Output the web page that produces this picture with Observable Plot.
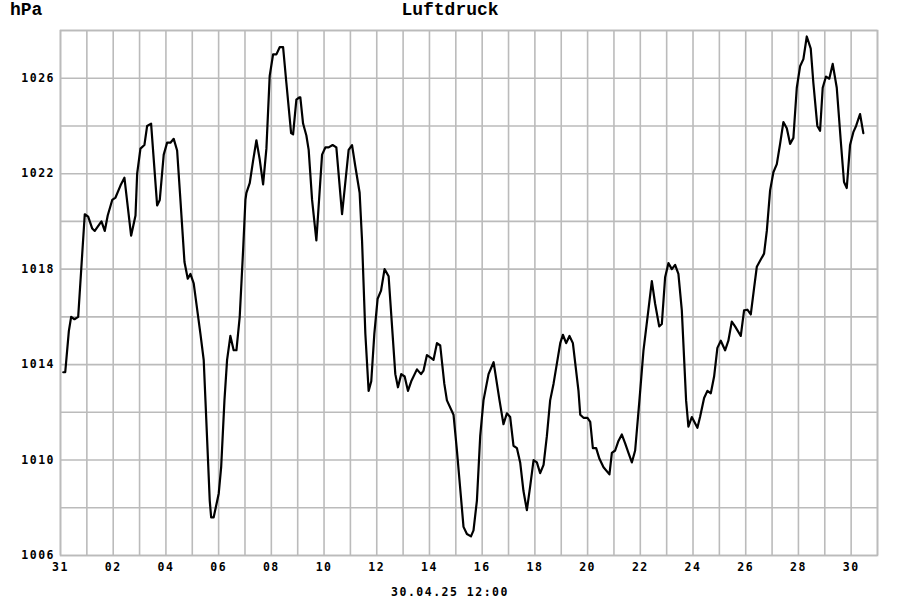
<!DOCTYPE html>
<html>
<head>
<meta charset="utf-8">
<script src="https://cdn.jsdelivr.net/npm/d3@7"></script>
<script src="https://cdn.jsdelivr.net/npm/@observablehq/plot@0.6"></script>
<style>
  html, body { margin: 0; padding: 0; background: #fff; }
  #page { position: relative; width: 900px; height: 600px; overflow: hidden; }
  #unit { position: absolute; left: 10px; top: 1px; font: bold 18px "Liberation Mono", monospace; line-height: 18px; white-space: nowrap; }
  #title { position: absolute; left: 0; width: 900px; top: 1px; text-align: center; font: bold 18px "Liberation Mono", monospace; line-height: 18px; }
  #caption { position: absolute; left: 0; width: 900px; top: 586px; text-align: center; font: bold 11.5px "DejaVu Sans Mono", monospace; line-height: 13px; letter-spacing: 1.5px; }
  #chart { position: absolute; left: 0; top: 20px; }
  #chart svg text { letter-spacing: 1.5px; }
</style>
</head>
<body>
<div id="page">
  <div id="unit">hPa</div>
  <div id="title">Luftdruck</div>
  <div id="chart"></div>
  <div id="caption">30.04.25 12:00</div>
</div>
<script>
// hours since 2025-03-31 00:00 UTC
const hours = [2.5,4.3,7.6,9.7,12.7,16.1,22.1,25.2,28.9,31.2,37.3,40.3,43.0,47.1,50.1,54.6,58.2,64.3,68.3,69.8,72.8,76.4,78.9,82.5,88.0,90.4,94.0,97.1,100.1,103.1,106.2,109.2,112.9,115.9,118.3,121.3,127.4,130.4,132.0,135.9,137.2,139.5,144.1,146.3,149.3,151.7,154.7,157.7,160.2,163.2,166.3,168.4,169.3,172.3,175.4,178.4,181.4,184.5,187.5,190.5,193.6,196.6,199.6,202.7,205.7,210.0,211.8,214.8,217.5,218.4,220.9,223.9,226.0,229.1,233.0,238.2,241.2,244.2,247.8,251.2,256.4,262.4,265.5,268.5,272.4,274.6,277.6,280.6,283.0,285.8,288.8,291.9,295.1,298.8,304.9,307.3,310.3,313.4,316.4,319.4,324.6,328.3,330.6,333.7,336.7,339.7,342.8,345.8,349.5,351.9,357.9,361.0,367.0,370.1,373.8,376.1,379.2,382.2,385.2,389.8,394.4,399.8,403.4,406.5,409.5,412.5,415.6,418.6,421.6,424.7,427.7,430.8,433.8,436.8,439.9,442.9,445.9,449.0,455.1,457.5,460.5,463.5,466.6,471.7,473.3,476.3,479.9,482.4,484.8,487.8,490.8,494.5,499.9,502.1,505.1,508.1,511.2,514.2,517.2,520.3,523.3,527.2,530.9,535.4,538.5,541.5,545.2,547.6,550.6,553.6,556.7,559.7,562.7,565.8,569.7,571.8,574.9,580.0,582.4,586.1,589.1,592.2,595.2,598.2,601.3,605.2,608.2,611.3,614.3,619.5,622.5,625.5,628.6,631.6,634.1,637.7,640.7,643.2,646.2,649.2,652.3,655.3,658.3,661.4,664.4,667.4,670.5,673.5,676.5,679.6,683.2,685.6,689.2,691.7,694.1,697.1,700.1,703.2,706.9,710.5,713.5,716.0,719.0,722.0,724.5,728.1,731.1];
const pressure = [1013.68,1013.68,1015.4,1016.0,1015.9,1016.0,1020.3,1020.2,1019.7,1019.6,1020.0,1019.6,1020.25,1020.9,1021.0,1021.5,1021.83,1019.4,1020.25,1022.0,1023.05,1023.2,1024.0,1024.1,1020.67,1020.9,1022.8,1023.3,1023.3,1023.46,1022.97,1020.9,1018.3,1017.6,1017.8,1017.4,1015.3,1014.2,1012.5,1008.3,1007.6,1007.6,1008.6,1009.7,1012.5,1014.2,1015.2,1014.6,1014.6,1016.0,1018.8,1020.9,1021.2,1021.6,1022.55,1023.4,1022.6,1021.55,1023.05,1026.1,1027.0,1027.0,1027.3,1027.3,1025.8,1023.7,1023.65,1025.1,1025.2,1025.2,1024.1,1023.6,1023.0,1020.9,1019.2,1022.8,1023.1,1023.1,1023.2,1023.1,1020.3,1023.0,1023.2,1022.3,1021.2,1019.2,1015.3,1012.9,1013.3,1015.3,1016.76,1017.1,1018.0,1017.7,1013.6,1013.05,1013.6,1013.5,1012.9,1013.3,1013.8,1013.6,1013.75,1014.4,1014.3,1014.2,1014.9,1014.8,1013.2,1012.5,1011.9,1010.4,1007.2,1006.9,1006.8,1007.05,1008.3,1011.0,1012.5,1013.6,1014.1,1012.5,1011.5,1011.96,1011.8,1010.6,1010.5,1009.9,1008.7,1007.9,1008.9,1010.0,1009.9,1009.45,1009.8,1011.0,1012.5,1013.2,1014.9,1015.25,1014.9,1015.2,1014.9,1012.9,1011.9,1011.77,1011.77,1011.6,1010.5,1010.5,1010.05,1009.7,1009.4,1010.3,1010.4,1010.8,1011.07,1010.7,1010.3,1009.9,1010.4,1012.5,1014.6,1016.3,1017.5,1016.55,1015.6,1015.7,1017.66,1018.25,1018.0,1018.18,1017.8,1016.27,1012.5,1011.4,1011.8,1011.35,1011.8,1012.6,1012.9,1012.8,1013.5,1014.7,1015.0,1014.6,1015.0,1015.8,1015.6,1015.2,1016.27,1016.3,1016.1,1017.2,1018.1,1018.4,1018.65,1019.6,1021.3,1022.06,1022.4,1023.25,1024.16,1023.9,1023.25,1023.5,1025.6,1026.5,1026.8,1027.75,1027.24,1025.8,1024.0,1023.8,1025.6,1026.07,1025.98,1026.6,1025.6,1023.4,1021.65,1021.4,1023.2,1023.74,1024.0,1024.5,1023.7];

const xTickDates = ["2025-03-31","2025-04-02","2025-04-04","2025-04-06","2025-04-08","2025-04-10","2025-04-12","2025-04-14","2025-04-16","2025-04-18","2025-04-20","2025-04-22","2025-04-24","2025-04-26","2025-04-28","2025-04-30"];
const yTicks = [1006, 1010, 1014, 1018, 1022, 1026];
const yGrid = [1006, 1008, 1010, 1012, 1014, 1016, 1018, 1020, 1022, 1024, 1026, 1028];

const base = Date.UTC(2025, 2, 31);
const data = hours.map((h, i) => ({t: new Date(base + h * 3600e3), p: pressure[i]}));
const xStart = new Date(Date.UTC(2025, 2, 31));
const xEnd = new Date(Date.UTC(2025, 4, 1));
const dayGrid = d3.utcDay.range(xStart, d3.utcDay.offset(xEnd, 1));
const xTicks = xTickDates.map(s => new Date(s + "T00:00:00Z"));

const gridColor = "#bbbbbb";
const chart = Plot.plot({
  width: 900,
  height: 555,
  marginLeft: 60,
  marginRight: 23,
  marginTop: 10,
  marginBottom: 20,
  x: {type: "utc", domain: [xStart, xEnd]},
  y: {domain: [1006, 1028]},
  style: {fontFamily: "'DejaVu Sans Mono', monospace", fontSize: "11.5px", fontWeight: "bold", color: "#000", background: "#fff"},
  marks: [
    Plot.gridX(dayGrid, {stroke: gridColor, strokeOpacity: 1, strokeWidth: 1.6}),
    Plot.gridY(yGrid, {stroke: gridColor, strokeOpacity: 1, strokeWidth: 1.6}),
    Plot.frame({stroke: gridColor, strokeWidth: 1.6}),
    Plot.axisX(xTicks, {tickSize: 0, tickPadding: 7.5, tickFormat: d3.utcFormat("%d"), label: null, fill: "#000"}),
    Plot.axisY(yTicks, {tickSize: 0, tickPadding: 5.5, tickFormat: d => String(d), label: null, fill: "#000"}),
    Plot.lineY(data, {x: "t", y: "p", stroke: "#000", strokeWidth: 2.2, strokeLinejoin: "round"})
  ]
});
document.getElementById("chart").appendChild(chart);
</script>
</body>
</html>
